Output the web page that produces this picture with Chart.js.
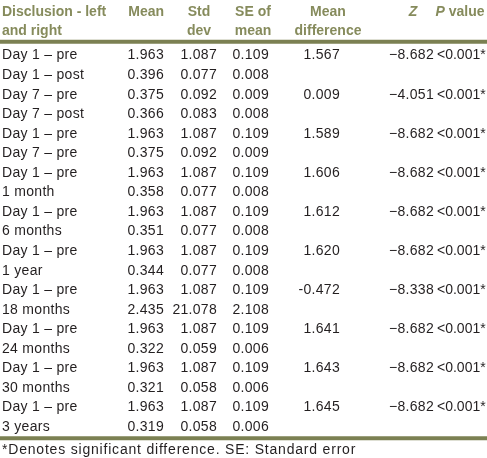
<!DOCTYPE html>
<html>
<head>
<meta charset="utf-8">
<script src="https://cdn.jsdelivr.net/npm/chart.js@4/dist/chart.umd.min.js"></script>
<style>
  html, body { margin: 0; padding: 0; background: #fff; }
  .wrap { width: 487px; height: 458px; position: relative; }
</style>
</head>
<body>
<div class="wrap"><canvas id="tabela"></canvas></div>
<script>
// dados da tabela
const rowLabels = [
  'Day 1 \u2013 pre', 'Day 1 \u2013 post', 'Day 7 \u2013 pre', 'Day 7 \u2013 post',
  'Day 1 \u2013 pre', 'Day 7 \u2013 pre', 'Day 1 \u2013 pre', '1 month',
  'Day 1 \u2013 pre', '6 months', 'Day 1 \u2013 pre', '1 year',
  'Day 1 \u2013 pre', '18 months', 'Day 1 \u2013 pre', '24 months',
  'Day 1 \u2013 pre', '30 months', 'Day 1 \u2013 pre', '3 years'
];
const means = [1.963, 0.396, 0.375, 0.366, 1.963, 0.375, 1.963, 0.358, 1.963, 0.351,
  1.963, 0.344, 1.963, 2.435, 1.963, 0.322, 1.963, 0.321, 1.963, 0.319];
const stdDevs = [1.087, 0.077, 0.092, 0.083, 1.087, 0.092, 1.087, 0.077, 1.087, 0.077,
  1.087, 0.077, 1.087, 21.078, 1.087, 0.059, 1.087, 0.058, 1.087, 0.058];
const seMeans = [0.109, 0.008, 0.009, 0.008, 0.109, 0.009, 0.109, 0.008, 0.109, 0.008,
  0.109, 0.008, 0.109, 2.108, 0.109, 0.006, 0.109, 0.006, 0.109, 0.006];
const meanDiffs = [1.567, null, 0.009, null, 1.589, null, 1.606, null, 1.612, null,
  1.620, null, -0.472, null, 1.641, null, 1.643, null, 1.645, null];
const zValues = [-8.682, null, -4.051, null, -8.682, null, -8.682, null, -8.682, null,
  -8.682, null, -8.338, null, -8.682, null, -8.682, null, -8.682, null];
const pValues = ['<0.001*', null, '<0.001*', null, '<0.001*', null, '<0.001*', null, '<0.001*', null,
  '<0.001*', null, '<0.001*', null, '<0.001*', null, '<0.001*', null, '<0.001*', null];
const headers = [
  ['Disclusion - left', 'and right'],
  ['Mean'],
  ['Std', 'dev'],
  ['SE of', 'mean'],
  ['Mean', 'difference'],
  ['Z'],
  ['P value']
];
const footnote = '*Denotes significant difference. SE: Standard error';

// layout das colunas (em px, escala x = largura do canvas)
const colunas = [
  { x: 2,   align: 'left',  hx: 2,   halign: 'left',   ls: '0.3px' },
  { x: 164, align: 'right', hx: 164, halign: 'right',  ls: '0.3px' },
  { x: 217, align: 'right', hx: 199, halign: 'center', ls: '0.3px' },
  { x: 269, align: 'right', hx: 253, halign: 'center', ls: '0.3px' },
  { x: 340, align: 'right', hx: 328, halign: 'center', ls: '0.3px' },
  { x: 434, align: 'right', hx: 413, halign: 'center', ls: '0.3px' },
  { x: 437, align: 'left',  hx: 460, halign: 'center', ls: '0px' }
];

const fmt3 = (v) => v.toFixed(3);
const textos = [
  rowLabels,
  means.map(fmt3),
  stdDevs.map(fmt3),
  seMeans.map(fmt3),
  meanDiffs.map(v => v == null ? null : (v < 0 ? '-' + fmt3(-v) : fmt3(v))),
  zValues.map(v => v == null ? null : (v < 0 ? '\u2212' + fmt3(-v) : fmt3(v))),
  pValues
];

const COR_TEXTO = '#231f20';
const COR_HEAD = '#868b5c';
const COR_LINHA = '#7b8052';
const FONTE = '14px "Liberation Sans", Arial, sans-serif';
const FONTE_HEAD = 'bold 14px "Liberation Sans", Arial, sans-serif';
const FONTE_HEAD_IT = 'italic bold 14px "Liberation Sans", Arial, sans-serif';

const tabelaPlugin = {
  id: 'tabela',
  afterDatasetsDraw(chart) {
    const ctx = chart.ctx;
    const xs = chart.scales.x;
    const ys = chart.scales.y;
    ctx.save();

    // linhas horizontais
    ctx.strokeStyle = COR_LINHA;
    ctx.lineWidth = 4;
    [-0.71, 19.57].forEach(v => {
      const y = ys.getPixelForValue(v);
      ctx.beginPath();
      ctx.moveTo(xs.getPixelForValue(0), y);
      ctx.lineTo(xs.getPixelForValue(487), y);
      ctx.stroke();
    });

    // cabecalho
    ctx.textBaseline = 'middle';
    ctx.font = FONTE_HEAD;
    ctx.fillStyle = COR_HEAD;
    headers.forEach((linhas, c) => {
      linhas.forEach((t, k) => {
        const y = ys.getPixelForValue(-2.24 + k * 0.98);
        ctx.textAlign = colunas[c].halign;
        const hx = xs.getPixelForValue(colunas[c].hx);
        if (t === 'Z') {
          ctx.font = FONTE_HEAD_IT;
          ctx.fillText(t, hx, y);
          ctx.font = FONTE_HEAD;
        } else if (t === 'P value') {
          ctx.textAlign = 'left';
          const w = ctx.measureText(t).width;
          const x0 = hx - w / 2;
          ctx.font = FONTE_HEAD_IT;
          ctx.fillText('P', x0, y);
          const wp = ctx.measureText('P ').width;
          ctx.font = FONTE_HEAD;
          ctx.fillText('value', x0 + wp, y);
        } else {
          ctx.fillText(t, hx, y);
        }
      });
    });

    // celulas
    ctx.font = FONTE;
    ctx.fillStyle = COR_TEXTO;
    chart.data.datasets.forEach((ds, i) => {
      const meta = chart.getDatasetMeta(i);
      ctx.textAlign = colunas[i].align;
      ctx.letterSpacing = colunas[i].ls;
      meta.data.forEach((pt, j) => {
        const t = ds.textos[j];
        if (t == null) return;
        ctx.fillText(t, pt.x, pt.y);
      });
    });

    // nota de rodape
    ctx.letterSpacing = '0.8px';
    ctx.textAlign = 'left';
    ctx.fillText(footnote, xs.getPixelForValue(2), ys.getPixelForValue(20.2));
    ctx.restore();
  }
};

const datasets = textos.map((col, c) => ({
  label: headers[c].join(' '),
  textos: col,
  data: col.map((t, j) => ({ x: colunas[c].x, y: j })),
  pointRadius: 0,
  pointHoverRadius: 0,
  showLine: false
}));

new Chart(document.getElementById('tabela'), {
  type: 'scatter',
  data: { datasets },
  options: {
    responsive: true,
    maintainAspectRatio: false,
    animation: false,
    events: [],
    layout: { padding: 0 },
    plugins: { legend: { display: false }, tooltip: { enabled: false } },
    scales: {
      x: { type: 'linear', min: 0, max: 487, display: false },
      y: { type: 'linear', min: -2.84, max: 20.58, reverse: true, display: false }
    }
  },
  plugins: [tabelaPlugin]
});
</script>
</body>
</html>
